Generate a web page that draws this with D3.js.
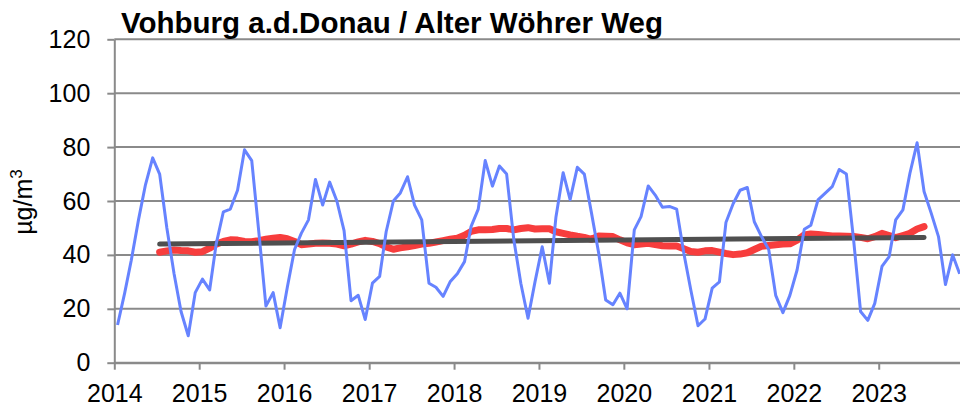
<!DOCTYPE html>
<html>
<head>
<meta charset="utf-8">
<script src="https://cdn.jsdelivr.net/npm/d3@7"></script>
<style>
  body { margin: 0; background: #fff; }
  svg { display: block; font-family: "Liberation Sans", Arial, sans-serif; }
</style>
</head>
<body>
<svg id="chartSvg" width="960" height="412"></svg>
<script>
// Monthly values, Jan 2014 .. Dec 2023 (µg/m³)
const monthly2014 = [14, 26, 38, 53, 66, 76, 70, 50, 33, 19, 10, 26];
const monthly2015 = [31, 27, 44, 56, 57, 64, 79, 75, 48, 21, 26, 13];
const monthly2016 = [28, 42, 48, 53, 68, 58.5, 67, 60, 49, 23, 25, 16];
const monthly2017 = [29.5, 32, 48.6, 60, 63, 69, 58.5, 53, 29.5, 28, 24.6, 30];
const monthly2018 = [33, 37.5, 50.5, 57, 75, 65.5, 73, 70, 45.6, 29.5, 16.5, 30];
const monthly2019 = [43, 29.5, 54, 70.5, 60.5, 72.5, 70, 55.5, 40.6, 23.3, 21.5, 25.8];
const monthly2020 = [20, 49.3, 54.2, 65.6, 62.2, 57.7, 58, 57, 40.6, 27, 13.7, 16.2];
const monthly2021 = [27.7, 30, 52, 59, 64, 65, 52.3, 46.8, 42, 25, 18.6, 25];
const monthly2022 = [34.4, 49.5, 51, 60.4, 62.8, 65.3, 71.7, 70, 45.6, 19, 15.7, 22];
const monthly2023 = [35.7, 39.4, 53, 56.7, 70.2, 81.6, 63.5, 55.4, 46.8, 29, 40, 33];

// 12-month moving average, Jul 2014 .. Jul 2023
const movingAvg = [
  41, 41.5, 41.8, 41.6, 41.5, 41, 41.2, 42.5, 44, 45, 45.6, 45.5,
  45, 44.9, 45.3, 45.8, 46.2, 46.5, 46, 45, 43.8, 44, 44.3, 44.4,
  44.3, 44, 43.4, 44, 44.8, 45.4, 45, 44.2, 43, 42.1, 42.6, 43,
  43.5, 44, 44.3, 44.8, 45.3, 45.8, 46.2, 47.3, 48.7, 49.3, 49.3, 49.4,
  49.8, 49.8, 49.3, 49.8, 50.1, 49.6, 49.7, 49.7, 48.6, 48, 47.4, 46.9,
  46.5, 45.8, 47, 46.9, 46.8, 45.6, 44.5, 43.8, 44, 44.3, 43.8, 43.4,
  43.3, 43.3, 42.3, 41.3, 41, 41.5, 41.6, 41, 40.5, 40.1, 40.3, 40.8,
  42, 43.2, 43.5, 43.8, 44, 44.1, 45.5, 47.4, 47.8, 47.6, 47.3, 47,
  47, 46.9, 46.8, 46.5, 46, 46.8, 48, 47.2, 46.4, 47.2, 48, 49.6, 50.5
];

// Linear trend, start and end
const trendDates = ["2014-07-15", "2023-07-15"];
const trendValues = [44.0, 46.5];

const years = [2014, 2015, 2016, 2017, 2018, 2019, 2020, 2021, 2022, 2023];
const yTicks = [0, 20, 40, 60, 80, 100, 120];

const title = "Vohburg a.d.Donau / Alter Wöhrer Weg";

// Build dated series
const monthlyValues = [].concat(monthly2014, monthly2015, monthly2016, monthly2017, monthly2018,
  monthly2019, monthly2020, monthly2021, monthly2022, monthly2023);
const monthly = monthlyValues.map((v, i) => ({ date: new Date(2014, i, 15), v: v }));
const avgSeries = movingAvg.map((v, i) => ({ date: new Date(2014, 6 + i, 15), v: v }));
const trend = trendValues.map((v, i) => ({ date: new Date(trendDates[i]), v: v }));

const svg = d3.select("#chartSvg");

// Scales
const plotLeft = 114.3, plotRight = 963.6, plotTop = 39.3, plotBottom = 362.7;
const x = d3.scaleTime()
    .domain([new Date(2014, 0, 1), new Date(2024, 0, 1)])
    .range([plotLeft, plotRight]);
const y = d3.scaleLinear()
    .domain([0, 120])
    .range([plotBottom, plotTop]);

const gridColor = "#8a8a8a";

// Horizontal gridlines
svg.append("g")
    .selectAll("line")
    .data(yTicks)
    .enter()
    .append("line")
    .attr("x1", plotLeft)
    .attr("x2", 960)
    .attr("y1", d => y(d))
    .attr("y2", d => y(d))
    .attr("stroke", gridColor)
    .attr("stroke-width", 2);

// Y axis
const yAxis = svg.append("g")
    .attr("transform", `translate(${plotLeft}, 0)`)
    .call(d3.axisLeft(y).tickValues(yTicks).tickSize(7).tickSizeOuter(0).tickPadding(17));

// X axis
const xAxis = svg.append("g")
    .attr("transform", `translate(0, ${plotBottom})`)
    .call(d3.axisBottom(x)
        .tickValues(years.map(yr => new Date(yr, 0, 1)))
        .tickFormat(d3.timeFormat("%Y"))
        .tickSize(7)
        .tickSizeOuter(0)
        .tickPadding(15));

[yAxis, xAxis].forEach(ax => {
    ax.select(".domain").attr("stroke", gridColor).attr("stroke-width", 2);
    ax.selectAll(".tick line").attr("stroke", gridColor).attr("stroke-width", 2);
    ax.selectAll("text").attr("font-size", "25px").attr("fill", "#000")
        .attr("font-family", "'Liberation Sans', Arial, sans-serif");
});

const line = d3.line()
    .x(d => x(d.date))
    .y(d => y(d.v));

// Moving average (red, thick)
svg.append("path")
    .datum(avgSeries)
    .attr("d", line)
    .attr("fill", "none")
    .attr("stroke", "#f73d3d")
    .attr("stroke-width", 7)
    .attr("stroke-linecap", "round")
    .attr("stroke-linejoin", "round");

// Trend (dark gray)
svg.append("path")
    .datum(trend)
    .attr("d", line)
    .attr("fill", "none")
    .attr("stroke", "#4f4f4f")
    .attr("stroke-width", 5)
    .attr("stroke-linecap", "round");

// Monthly values (blue)
svg.append("path")
    .datum(monthly)
    .attr("d", line)
    .attr("fill", "none")
    .attr("stroke", "#6683ff")
    .attr("stroke-width", 3)
    .attr("stroke-linejoin", "round");

// Title
svg.append("text")
    .attr("x", 121)
    .attr("y", 33)
    .attr("font-size", "29.5px")
    .attr("font-weight", "bold")
    .attr("fill", "#000")
    .text(title);

// Y axis label
const yLabel = svg.append("text")
    .attr("transform", "translate(32, 202) rotate(-90)")
    .attr("text-anchor", "middle")
    .attr("font-size", "25px")
    .attr("fill", "#000");
yLabel.append("tspan").text("µg/m");
yLabel.append("tspan").attr("font-size", "17px").attr("dy", "-10").text("3");
</script>
</body>
</html>
